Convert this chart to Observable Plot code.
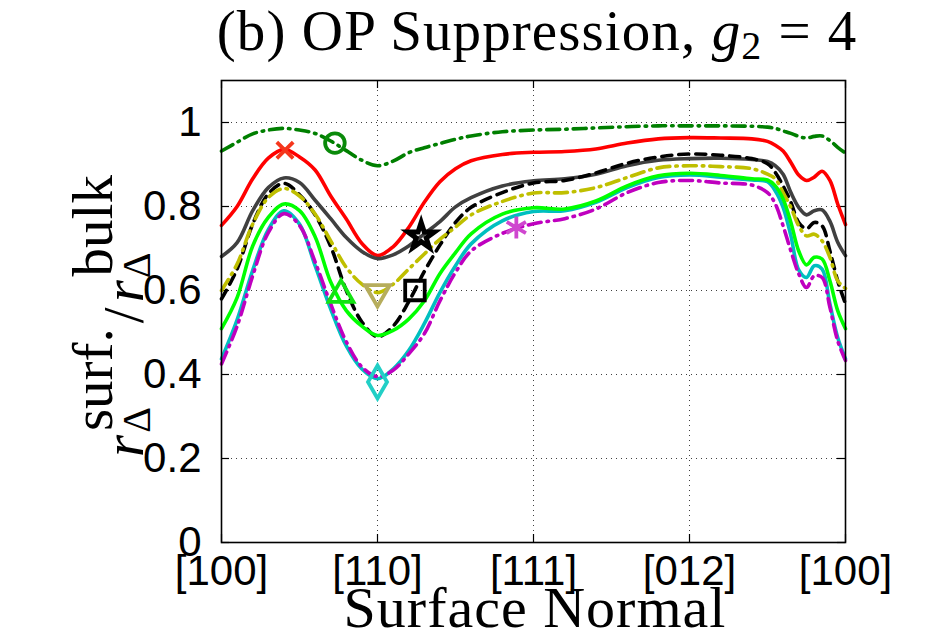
<!DOCTYPE html>
<html>
<head>
<meta charset="utf-8">
<script src="https://cdn.jsdelivr.net/npm/d3@7"></script>
<script src="https://cdn.jsdelivr.net/npm/@observablehq/plot@0.6"></script>
<style>
  html, body { margin: 0; padding: 0; background: #fff; }
  #chart { width: 936px; height: 636px; }
</style>
</head>
<body>
<div id="chart"></div>
<script>
// Position along the path of surface normals ([100] -> [110] -> [111] -> [012] -> [100])
const pathPos = [0, 0.1, 0.2, 0.3, 0.4, 0.5, 0.6, 0.7, 0.8, 0.9, 1.0, 1.1, 1.2, 1.3, 1.4, 1.5, 1.6, 1.8,
  2.0, 2.2, 2.4, 2.6, 2.8, 3.0, 3.2, 3.4, 3.5, 3.55, 3.6, 3.65, 3.7, 3.75, 3.8, 3.85, 3.9, 3.95, 4.0];

// r_surf / r_bulk for each curve
const darkGreenDashDot = [.932, .953, .973, .982, .986, .982, .974, .956, .933, .910, .897, .908, .928, .940, .950, .960, .968, .978,
  .982, .984, .987, .990, .992, .992, .992, .991, .989, .986, .980, .974, .967, .963, .967, .968, .957, .941, .927];
const redSolid = [.755, .800, .866, .915, .936, .918, .887, .825, .770, .712, .683, .704, .750, .810, .859, .890, .909, .924,
  .929, .931, .937, .951, .961, .964, .963, .961, .955, .946, .932, .905, .875, .862, .870, .884, .862, .806, .757];
const graySolid = [.681, .714, .790, .845, .868, .857, .815, .771, .726, .693, .676, .685, .706, .735, .764, .799, .821, .849,
  .861, .866, .877, .897, .910, .914, .915, .912, .907, .897, .877, .833, .798, .780, .790, .792, .765, .715, .683];
const blackDashed = [.580, .651, .758, .830, .855, .828, .780, .705, .600, .525, .490, .515, .573, .645, .708, .762, .798, .833,
  .856, .862, .880, .903, .918, .925, .922, .914, .902, .881, .849, .810, .762, .747, .762, .754, .694, .623, .568];
const yellowDashDot = [.600, .663, .758, .821, .843, .825, .782, .718, .655, .615, .595, .615, .651, .687, .722, .751, .780, .812,
  .832, .833, .845, .869, .892, .897, .895, .890, .877, .866, .833, .798, .754, .730, .734, .718, .679, .623, .605];
const greenSolid = [.509, .583, .706, .774, .806, .790, .728, .620, .552, .515, .493, .505, .532, .575, .640, .690, .735, .782,
  .797, .794, .813, .849, .873, .879, .874, .866, .863, .849, .818, .762, .694, .661, .679, .675, .623, .552, .509];
const cyanSolid = [.437, .530, .648, .745, .790, .758, .659, .556, .468, .413, .390, .413, .457, .521, .595, .659, .711, .766,
  .788, .790, .810, .845, .869, .875, .870, .863, .859, .837, .798, .730, .649, .631, .659, .651, .568, .488, .437];
const magentaDashDot = [.425, .515, .635, .738, .783, .755, .668, .568, .478, .418, .395, .410, .449, .497, .575, .643, .694, .736,
  .759, .771, .794, .833, .857, .862, .856, .851, .833, .806, .754, .694, .640, .607, .635, .631, .560, .480, .433];

// Axis ticks
const xTickPos = [0, 1, 2, 3, 4];
const xTickLabels = ["[100]", "[110]", "[111]", "[012]", "[100]"];
const yTickPos = [0, 0.2, 0.4, 0.6, 0.8, 1];
const yTickLabels = ["0", "0.2", "0.4", "0.6", "0.8", "1"];

// Curve identifying markers
const markerX = [0.727, 0.407, 1.28, 1.24, 1.0, 0.766, 1.0, 1.89];
const markerY = [0.951, 0.934, 0.729, 0.600, 0.596, 0.590, 0.382, 0.750];
const markerKind = ["circle", "times", "star", "square", "triangleDown", "triangle", "diamond", "asterisk"];
const markerColor = ["#0a8a0a", "#f5361c", "#000000", "#000000", "#b6ad5c", "#12e312", "#22cfc6", "#cf46cf"];
const markerR = [9.8, 7.5, 8.3, 11, 9.2, 9.2, 10, 10.5];

const series = [
  {values: darkGreenDashDot, color: "#007f00", dash: "13,6,1.5,6"},
  {values: redSolid, color: "#ff0000", dash: null},
  {values: graySolid, color: "#404040", dash: null},
  {values: blackDashed, color: "#000000", dash: "10,7"},
  {values: yellowDashDot, color: "#bfbf00", dash: "13,6,1.5,6"},
  {values: cyanSolid, color: "#00bfbf", dash: null},
  {values: magentaDashDot, color: "#bf00bf", dash: "13,6,1.5,6"},
  {values: greenSolid, color: "#00ff00", dash: null}
];

const sqrt3 = Math.sqrt(3);
const triangleDown = {
  draw(context, size) {
    const y = Math.sqrt(size / (sqrt3 * 3));
    context.moveTo(0, y * 2);
    context.lineTo(-sqrt3 * y, -y);
    context.lineTo(sqrt3 * y, -y);
    context.closePath();
  }
};
const symbolOf = k => (k === "triangleDown" ? triangleDown : k);

const W = 936, H = 636;
const mL = 221, mR = 91, mT = 80, mB = 94;
const frameW = W - mL - mR, frameH = H - mT - mB;
const tick = 8;

const lineMarks = series.map(s => Plot.line(pathPos, {
  x: d => d,
  y: (d, i) => s.values[i],
  stroke: s.color,
  strokeWidth: 3.6,
  strokeDasharray: s.dash,
  curve: "catmull-rom"
}));

const markerMarks = markerKind.map((k, i) => Plot.dot([i], {
  x: j => markerX[j],
  y: j => markerY[j],
  r: markerR[i],
  symbol: symbolOf(k),
  stroke: markerColor[i],
  fill: "none",
  strokeWidth: k === "star" ? 5 : 3.8
}));

const chart = Plot.plot({
  width: W,
  height: H,
  marginLeft: mL,
  marginRight: mR,
  marginTop: mT,
  marginBottom: mB,
  style: {fontFamily: "'Liberation Sans', Arial, sans-serif", fontSize: "42px", background: "#fff", color: "#000"},
  x: {domain: [0, 4]},
  y: {domain: [0, 1.1]},
  marks: [
    Plot.gridX(xTickPos.slice(1, -1), {stroke: "#000", strokeOpacity: 0.75, strokeWidth: 1, strokeDasharray: "1,4"}),
    Plot.gridY(yTickPos.slice(1), {stroke: "#000", strokeOpacity: 0.75, strokeWidth: 1, strokeDasharray: "1,4"}),
    Plot.tickY(yTickPos, {y: d => d, insetRight: frameW - tick, stroke: "#000", strokeWidth: 1.2}),
    Plot.tickY(yTickPos, {y: d => d, insetLeft: frameW - tick, stroke: "#000", strokeWidth: 1.2}),
    Plot.tickX(xTickPos, {x: d => d, insetTop: frameH - tick, stroke: "#000", strokeWidth: 1.2}),
    Plot.tickX(xTickPos, {x: d => d, insetBottom: frameH - tick, stroke: "#000", strokeWidth: 1.2}),
    ...lineMarks,
    ...markerMarks,
    Plot.frame({stroke: "#000", strokeWidth: 1.6}),
    Plot.axisY(yTickPos, {tickSize: 0, tickPadding: 20, tickFormat: (d, i) => yTickLabels[i], fontSize: 42, label: null}),
    Plot.axisX(xTickPos, {tickSize: 0, tickPadding: 13, tickFormat: (d, i) => xTickLabels[i], fontSize: 42, label: null})
  ]
});

document.getElementById("chart").appendChild(chart);

const svg = d3.select(chart);
const serif = "'Liberation Serif', 'Times New Roman', serif";

// Title
const title = svg.append("text")
  .attr("x", 537).attr("y", 50)
  .attr("text-anchor", "middle")
  .attr("letter-spacing", 1.1)
  .attr("font-family", serif).attr("font-size", 57).attr("fill", "#000");
title.append("tspan").text("(b) OP Suppression, ");
title.append("tspan").attr("font-style", "italic").text("g");
title.append("tspan").attr("font-size", 40).attr("dy", 9).text("2");
title.append("tspan").attr("dy", -9).attr("dx", 16).text("=");
title.append("tspan").attr("dx", 16).text("4");

// x-axis label
svg.append("text")
  .attr("x", 535).attr("y", 627)
  .attr("text-anchor", "middle")
  .attr("letter-spacing", 1)
  .attr("font-family", serif).attr("font-size", 58).attr("fill", "#000")
  .text("Surface Normal");

// y-axis label: r_Δ^surf. / r_Δ^bulk
const yl = svg.append("text")
  .attr("transform", "translate(143,457) rotate(-90)")
  .attr("text-anchor", "start")
  .attr("font-family", serif).attr("font-size", 57).attr("fill", "#000");
yl.append("tspan").attr("font-style", "italic").text("r");
yl.append("tspan").attr("font-size", 40).attr("dx", 2).attr("dy", 7).text("Δ");
yl.append("tspan").attr("dx", -24).attr("dy", -38).text("surf.");
yl.append("tspan").attr("dx", 5).attr("dy", 31).text("/");
yl.append("tspan").attr("font-style", "italic").attr("dx", 5).text("r");
yl.append("tspan").attr("font-size", 40).attr("dx", 2).attr("dy", 7).text("Δ");
yl.append("tspan").attr("dx", -24).attr("dy", -38).text("bulk");
</script>
</body>
</html>
